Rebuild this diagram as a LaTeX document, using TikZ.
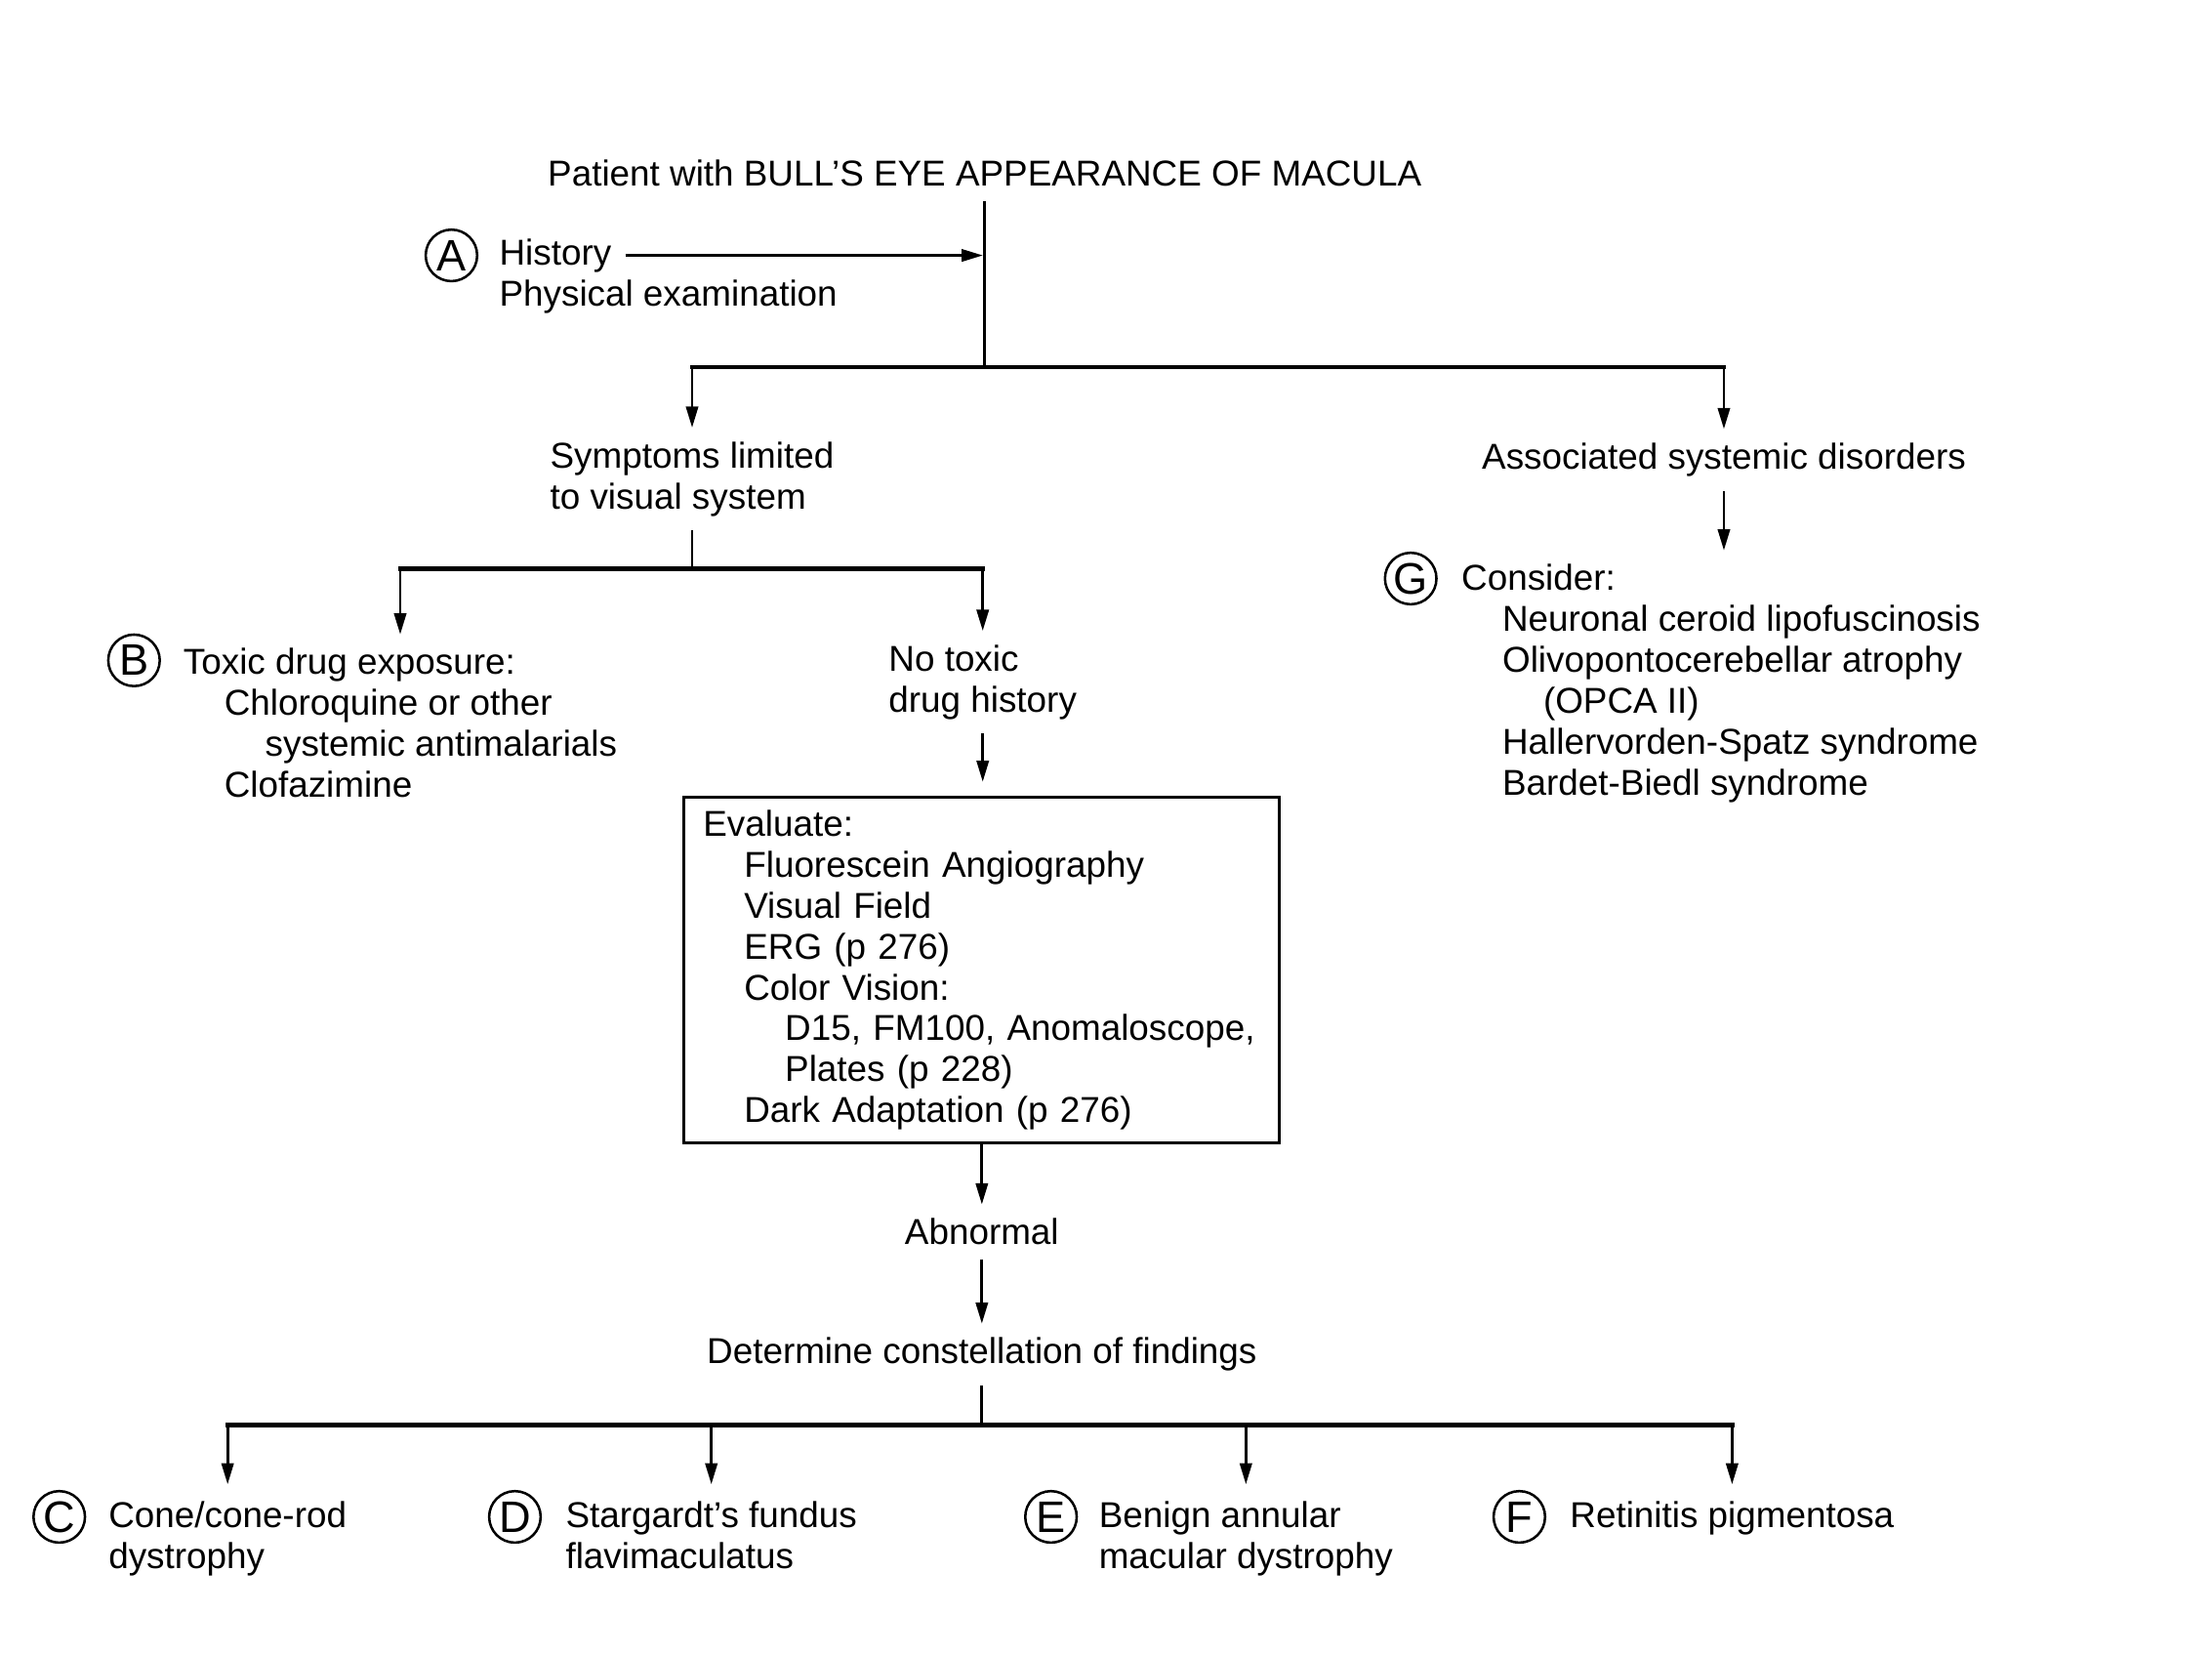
\documentclass[tikz,border=0pt]{standalone}
\usepackage{fontspec}
\setmainfont{Liberation Sans}
\usetikzlibrary{arrows.meta}
\newcommand{\ind}{\hspace*{11.6pt}}

\begin{document}
\begin{tikzpicture}[x=0.4pt, y=-0.4pt,
    font=\fontsize{10.2}{11.6}\selectfont,
    txt/.style={inner sep=0pt, outer sep=4pt, align=left},
    letter/.style={circle, draw, line width=0.7pt, minimum size=14.6pt, inner sep=0pt, font=\fontsize{12.5}{13}\selectfont},
    conn/.style={line width=0.8pt},
    hbar/.style={line width=1.2pt, line cap=rect},
    arr/.style={line width=0.8pt, -{Triangle[length=6pt,width=3.4pt]}}]
    \useasboundingbox (0,0) rectangle (1568,1172);
    \node[txt] (title) at (698,123) {Patient with BULL’S EYE APPEARANCE OF MACULA};
    \node[letter] (la) at (320,181) {A};
    \node[txt, anchor=west] (hist) at (344,181) {History};
    \node[txt, anchor=west] (phys) at (344,210) {Physical examination};
    \coordinate (j1) at (title.south |- 0,260);
    \draw[conn] (title.south) -- (j1);
    \draw[arr, shorten >=0.5pt] (hist.east) -- (hist.east -| j1);
    \node[txt, anchor=west] (sym) at (380,339.5) {Symptoms limited\\to visual system};
    \node[txt] (assoc) at (1222,326) {Associated systemic disorders};
    \draw[hbar] (sym.north |- j1) -- (assoc.north |- j1);
    \draw[arr] (sym.north |- j1) -- (sym.north);
    \draw[arr] (assoc.north |- j1) -- (assoc.north);
    \node[letter] (lg) at (1000,410) {G};
    \node[txt, anchor=west] (cons) at (1026,484.5) {Consider:\\\ind Neuronal ceroid lipofuscinosis\\\ind Olivopontocerebellar atrophy\\\ind\ind (OPCA II)\\\ind Hallervorden-Spatz syndrome\\\ind Bardet-Biedl syndrome};
    \draw[arr] (assoc.south) -- (assoc.south |- cons.north);
    \coordinate (j2) at (sym.south |- 0,403);
    \node[letter] (lb) at (95,468) {B};
    \node[txt, anchor=west] (tox) at (120,512.5) {Toxic drug exposure:\\\ind Chloroquine or other\\\ind\ind systemic antimalarials\\\ind Clofazimine};
    \node[txt, anchor=west] (notox) at (620,483.5) {No toxic\\drug history};
    \draw[conn] (sym.south) -- (j2);
    \draw[hbar] (tox.north |- j2) -- (notox.north |- j2);
    \draw[arr] (tox.north |- j2) -- (tox.north);
    \draw[arr] (notox.north |- j2) -- (notox.north);
    \node[draw, line width=0.8pt, inner xsep=5.4pt, inner ysep=3.6pt, text width=158pt, align=left] (eval) at (696,687.5) {Evaluate:\\\ind Fluorescein Angiography\\\ind Visual Field\\\ind ERG (p 276)\\\ind Color Vision:\\\ind\ind D15, FM100, Anomaloscope,\\\ind\ind Plates (p 228)\\\ind Dark Adaptation (p 276)};
    \draw[arr, shorten >=4pt] (notox.south) -- (notox.south |- eval.north);
    \node[txt] (abn) at (696,873) {Abnormal};
    \node[txt] (det) at (696,960) {Determine constellation of findings};
    \draw[arr] (eval.south) -- (abn.north);
    \draw[arr] (abn.south) -- (det.north);
    \coordinate (j3) at (det.south |- 0,1010);
    \node[letter] (lc) at (42,1075) {C};
    \node[txt, anchor=north west] (cone) at (67,1052) {\strut Cone/cone-rod\\dystrophy};
    \node[letter] (ld) at (365,1075) {D};
    \node[txt, anchor=north west] (starg) at (391,1052) {\strut Stargardt’s fundus\\flavimaculatus};
    \node[letter] (le) at (745,1075) {E};
    \node[txt, anchor=north west] (benign) at (769,1052) {\strut Benign annular\\macular dystrophy};
    \node[letter] (lf) at (1077,1075) {F};
    \node[txt, anchor=north west] (retin) at (1103,1052) {\strut Retinitis pigmentosa};
    \draw[conn] (det.south) -- (j3);
    \draw[hbar] (cone.north |- j3) -- (retin.north |- j3);
    \foreach \n in {cone,starg,benign,retin}
        \draw[arr] (\n.north |- j3) -- (\n.north);
\end{tikzpicture}
\end{document}
